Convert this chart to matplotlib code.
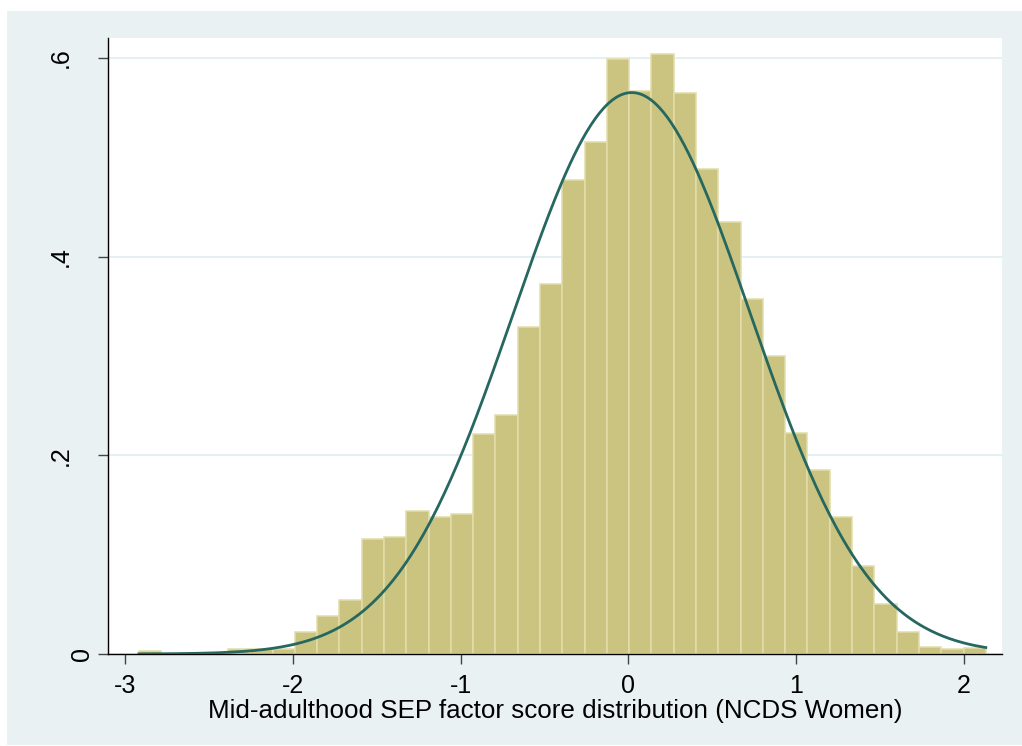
import numpy as np
import matplotlib
matplotlib.use("Agg")
import matplotlib.pyplot as plt
from matplotlib.patches import Rectangle
from matplotlib.transforms import ScaledTranslation

plt.rcParams['font.family'] = ['Liberation Sans', 'DejaVu Sans']

# histogram of the SEP factor score: 38 bins, density scale
bin_start = -2.917
bin_width = 0.1328
density = [0.003, 0.0, 0.0, 0.0, 0.005, 0.005, 0.005, 0.022, 0.038, 0.054,
           0.116, 0.118, 0.144, 0.138, 0.141, 0.221, 0.241, 0.329, 0.372, 0.477,
           0.515, 0.599, 0.567, 0.604, 0.565, 0.488, 0.435, 0.357, 0.300, 0.222,
           0.185, 0.138, 0.089, 0.050, 0.022, 0.007, 0.005, 0.006]

# normal overlay parameters
score_mean = 0.02
score_sd = 0.706

xticks = [-3, -2, -1, 0, 1, 2]
yticks = [0, 0.2, 0.4, 0.6]
ytick_labels = ["0", ".2", ".4", ".6"]

fig = plt.figure(figsize=(10.22, 7.46), dpi=100)
fig.patch.set_facecolor("white")
# light grey-blue graph region behind the plot
fig.add_artist(Rectangle((7 / 1022, 1 / 746), 1 - 7 / 1022, 734 / 746,
                         transform=fig.transFigure, facecolor="#EAF1F3",
                         edgecolor="none", zorder=-5))

ax = fig.add_axes([108 / 1022, 92 / 746, 894 / 1022, 616 / 746])
ax.set_zorder(1)
ax.set_facecolor("white")

lefts = bin_start + bin_width * np.arange(len(density))
ax.bar(lefts, density, width=bin_width, align="edge",
       color="#CBC480", edgecolor="#E2DDAA", linewidth=1.1, zorder=2)

xs = np.linspace(bin_start, bin_start + bin_width * len(density), 400)
pdf = np.exp(-0.5 * ((xs - score_mean) / score_sd) ** 2) / (score_sd * np.sqrt(2 * np.pi))
ax.plot(xs, pdf, color="#26685F", linewidth=2.0, zorder=3)

ax.set_xlim(-3.101, 2.226)
ax.set_ylim(0, 0.620)

ax.set_xticks(xticks)
ax.set_xticklabels([str(t) for t in xticks])
ax.set_yticks(yticks)
ax.set_yticklabels(ytick_labels, rotation=90, va="center")

ax.grid(axis="y", color="#E6EFF1", linewidth=1.5, zorder=1)
ax.set_axisbelow(True)

for side in ["top", "right"]:
    ax.spines[side].set_visible(False)
for side in ["left", "bottom"]:
    ax.spines[side].set_color("black")
    ax.spines[side].set_linewidth(1.0)

ax.tick_params(axis="x", length=7.2, width=1.0, color="#444444",
               labelsize=18, pad=7)
ax.tick_params(axis="y", length=7.2, width=1.0, color="#444444",
               labelsize=18, pad=18)

# the zero label sits closer to the axis
lbl0 = ax.get_yticklabels()[0]
lbl0.set_transform(lbl0.get_transform() + ScaledTranslation(21 / 100, 0, fig.dpi_scale_trans))

ax.set_xlabel("Mid-adulthood SEP factor score distribution (NCDS Women)",
              fontsize=18.7, labelpad=1)

fig.savefig("out.png", dpi=100, facecolor=fig.get_facecolor())
